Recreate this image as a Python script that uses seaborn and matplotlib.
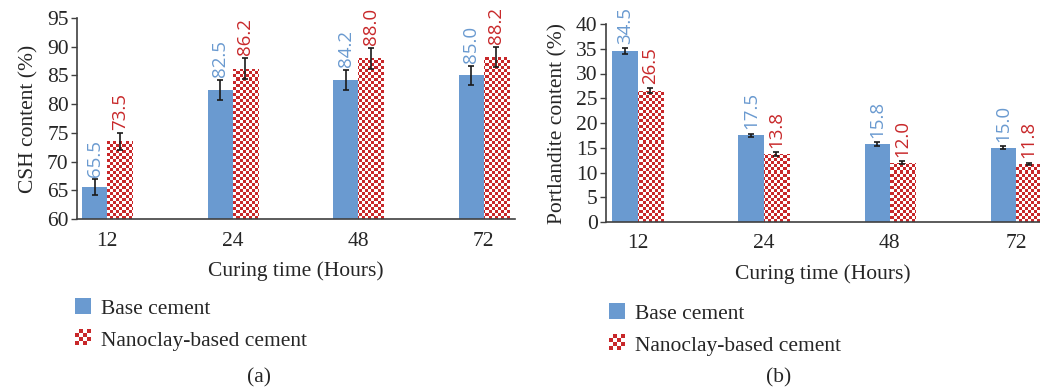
import numpy as np
import pandas as pd
import matplotlib
matplotlib.use("Agg")
import matplotlib.pyplot as plt
from matplotlib.patches import Rectangle, Patch
from matplotlib.legend_handler import HandlerBase
import seaborn as sns

# ---------------- data ----------------
curing_times = ["12", "24", "48", "72"]
series_names = ["Base cement", "Nanoclay-based cement"]

csh_base = [65.5, 82.5, 84.2, 85.0]
csh_nano = [73.5, 86.2, 88.0, 88.2]
csh_base_err = [1.4, 1.7, 1.7, 1.7]
csh_nano_err = [1.5, 1.8, 1.8, 1.8]

port_base = [34.5, 17.5, 15.8, 15.0]
port_nano = [26.5, 13.8, 12.0, 11.8]
port_base_err = [0.6, 0.35, 0.35, 0.3]
port_nano_err = [0.5, 0.4, 0.25, 0.2]

BLUE = "#6A9AD0"
RED = "#C8282A"
BLUE_TXT = "#6A9AD0"
RED_TXT = "#C8282A"
TXT = "#262626"
FS = 15.5

sns.set_theme(style="white")
plt.rcParams["font.family"] = ["Liberation Serif", "DejaVu Serif"]
plt.rcParams["axes.edgecolor"] = "#404040"

fig = plt.figure(figsize=(10.4, 3.92), dpi=100)


class CheckerHandler(HandlerBase):
    def legend_artist(self, legend, orig_handle, fontsize, handlebox):
        x0, y0 = handlebox.xdescent, handlebox.ydescent
        w, h = handlebox.width, handlebox.height
        s = min(w, h)
        x0 = x0 + (w - s) / 2
        n = 4
        c = s / n
        handlebox.add_artist(Rectangle((x0, y0), s, s, facecolor="white",
                                       edgecolor="none", transform=handlebox.get_transform()))
        r = None
        for i in range(n):
            for j in range(n):
                if (i + j) % 2 == 0:
                    r = Rectangle((x0 + i * c, y0 + j * c), c, c, facecolor=RED,
                                  edgecolor="none", transform=handlebox.get_transform())
                    handlebox.add_artist(r)
        return r


class SquareHandler(HandlerBase):
    def legend_artist(self, legend, orig_handle, fontsize, handlebox):
        x0, y0 = handlebox.xdescent, handlebox.ydescent
        w, h = handlebox.width, handlebox.height
        s = min(w, h)
        r = Rectangle((x0 + (w - s) / 2, y0), s, s, facecolor=BLUE, edgecolor="none",
                      transform=handlebox.get_transform())
        handlebox.add_artist(r)
        return r


def panel(rect, base, nano, base_err, nano_err, ylim, yticks, ylabel,
          xlim, label_off, legend_xy, sub_xy, sub):
    ax = fig.add_axes(rect)
    df = pd.DataFrame({
        "time": curing_times * 2,
        "series": [series_names[0]] * 4 + [series_names[1]] * 4,
        "value": base + nano,
    })
    sns.barplot(data=df, x="time", y="value", hue="series", order=curing_times,
                hue_order=series_names, palette=[BLUE, "white"], width=0.4,
                saturation=1, dodge=True, errorbar=None, legend=False, ax=ax,
                edgecolor="none", linewidth=0)
    ax.set_ylim(*ylim)
    ax.set_xlim(*xlim)

    containers = list(ax.containers)[:2]
    errs = [base_err, nano_err]
    vals = [base, nano]
    colors_txt = [BLUE_TXT, RED_TXT]

    # checkerboard texture for the nanoclay bars
    bbox = ax.get_position()
    wpx = bbox.width * fig.get_figwidth() * fig.dpi
    hpx = bbox.height * fig.get_figheight() * fig.dpi
    cell = 3.0
    nx, ny = int(round(wpx / cell)), int(round(hpx / cell))
    yy, xx = np.mgrid[0:ny, 0:nx]
    checker = ((xx + yy) % 2).astype(float)
    cmap = matplotlib.colors.ListedColormap(["white", RED])
    for p in containers[1]:
        im = ax.imshow(checker, cmap=cmap, interpolation="nearest",
                       extent=(0, 1, 0, 1), transform=ax.transAxes,
                       aspect="auto", zorder=p.get_zorder() + 0.1)
        im.set_clip_path(p)
    ax.set_xlim(*xlim)
    ax.set_ylim(*ylim)

    for k, cont in enumerate(containers):
        patches = list(cont)
        xs = [p.get_x() + p.get_width() / 2 for p in patches]
        hs = [p.get_y() + p.get_height() for p in patches]
        ax.errorbar(xs, hs, yerr=errs[k], fmt="none", ecolor="#1a1a1a",
                    elinewidth=1.2, capsize=2.5, capthick=1.2, zorder=5)
        for x, h, e, v in zip(xs, hs, errs[k], vals[k]):
            ax.annotate(f"{v:.1f}", (x, h + e), xytext=(0, label_off),
                        textcoords="offset points", ha="center", va="bottom",
                        rotation=90, color=colors_txt[k], fontsize=13.5,
                        family=["Open Sans", "DejaVu Sans"], annotation_clip=False)

    ax.set_yticks(yticks)
    ax.set_yticklabels([str(t) for t in yticks])
    ax.tick_params(axis="y", which="major", left=True, length=4, width=1,
                   color="#404040", labelsize=FS, labelcolor=TXT, pad=2)
    ax.tick_params(axis="x", bottom=False, labelsize=FS, labelcolor=TXT, pad=3)
    ax.set_xlabel("Curing time (Hours)", fontsize=FS, color=TXT, labelpad=8)
    ax.set_ylabel(ylabel, fontsize=FS, color=TXT, labelpad=6)
    sns.despine(ax=ax)
    for s in ["left", "bottom"]:
        ax.spines[s].set_linewidth(1.2)
        ax.spines[s].set_color("#404040")

    handles = [Patch(label=series_names[0]), Patch(label=series_names[1])]
    leg = fig.legend(handles=handles, labels=series_names,
                     handler_map={handles[0]: SquareHandler(), handles[1]: CheckerHandler()},
                     loc="upper left", bbox_to_anchor=legend_xy, frameon=False,
                     fontsize=FS, handlelength=0.75, handleheight=0.75,
                     handletextpad=0.45, labelspacing=0.5, borderpad=0, borderaxespad=0)
    for t in leg.get_texts():
        t.set_color(TXT)
    fig.text(sub_xy[0], sub_xy[1], sub, ha="center", va="center", fontsize=FS, color=TXT)
    return ax


panel([77 / 1040, 1 - 219 / 392, 438 / 1040, 201 / 392],
      csh_base, csh_nano, csh_base_err, csh_nano_err,
      (60, 95), [60, 65, 70, 75, 80, 85, 90, 95], "CSH content (%)",
      (-0.24, 3.25), 2, (75 / 1040, 1 - 299 / 392), (259 / 1040, 1 - 378 / 392), "(a)")

panel([606 / 1040, 1 - 222 / 392, 434 / 1040, 198 / 392],
      port_base, port_nano, port_base_err, port_nano_err,
      (0, 40), [0, 5, 10, 15, 20, 25, 30, 35, 40], "Portlandite content (%)",
      (-0.25, 3.19), 3, (609 / 1040, 1 - 304 / 392), (779 / 1040, 1 - 378 / 392), "(b)")

fig.savefig("out.png", dpi=100)
